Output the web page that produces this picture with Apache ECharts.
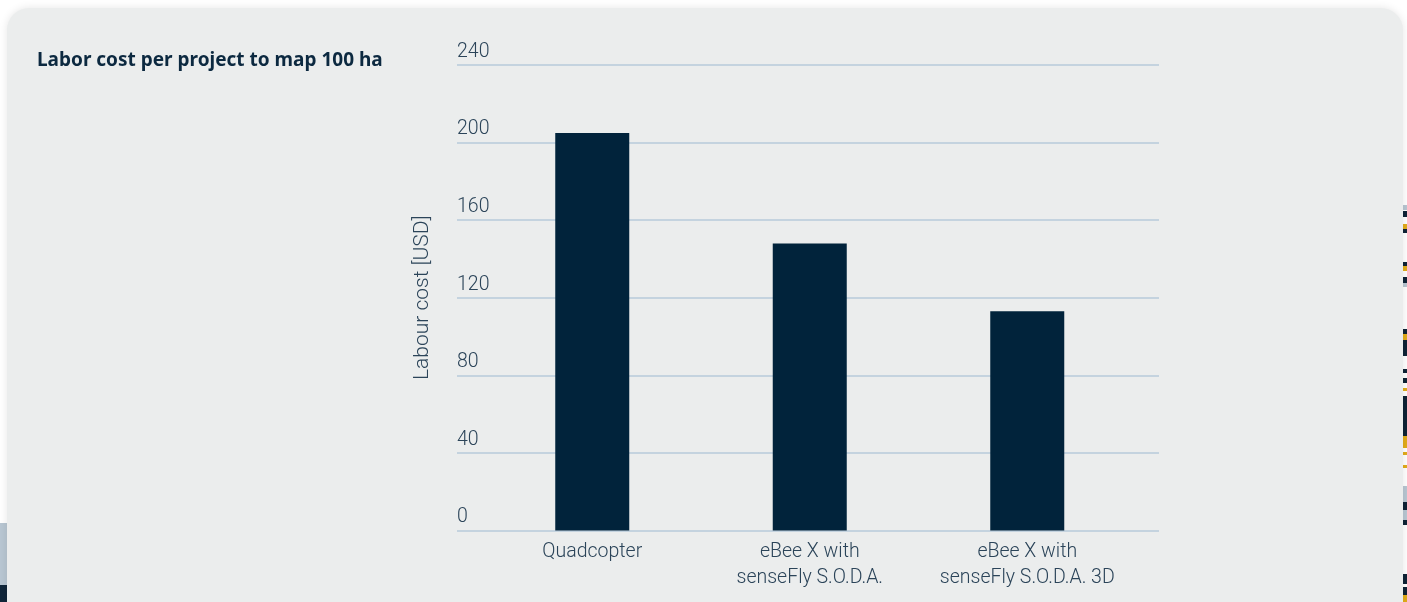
<!DOCTYPE html>
<html>
<head>
<meta charset="utf-8">
<script src="https://cdn.jsdelivr.net/npm/echarts@6/dist/echarts.min.js"></script>
<style>
  html, body { margin: 0; padding: 0; background: #ffffff; width: 1407px; height: 602px; overflow: hidden; position: relative; }
  .strip { position: absolute; }
  #card { position: absolute; left: 7px; top: 8px; width: 1396px; height: 620px; background: #ebeded; border-radius: 22px; box-shadow: 0 0 8px rgba(0,0,0,0.10); }
  #chart { position: absolute; left: 0; top: 0; width: 1407px; height: 602px; }
</style>
</head>
<body>
<div class="strip" style="left:0;top:523px;width:8px;height:62px;background:#b8c6d2"></div>
<div class="strip" style="left:0;top:585px;width:8px;height:17px;background:#10263a"></div>
<div class="strip" style="left:1400px;top:205px;width:7px;height:5px;background:#b8c6d2"></div>
<div class="strip" style="left:1400px;top:211px;width:7px;height:6px;background:#0e2336"></div>
<div class="strip" style="left:1400px;top:224px;width:7px;height:5px;background:#e2ac1a"></div>
<div class="strip" style="left:1400px;top:229px;width:7px;height:4px;background:#0e2336"></div>
<div class="strip" style="left:1400px;top:262px;width:7px;height:4px;background:#0e2336"></div>
<div class="strip" style="left:1400px;top:266px;width:7px;height:5px;background:#e2ac1a"></div>
<div class="strip" style="left:1400px;top:277px;width:7px;height:6px;background:#0e2336"></div>
<div class="strip" style="left:1400px;top:283px;width:7px;height:4px;background:#b8c6d2"></div>
<div class="strip" style="left:1400px;top:329px;width:7px;height:5px;background:#0e2336"></div>
<div class="strip" style="left:1400px;top:334px;width:7px;height:6px;background:#e2ac1a"></div>
<div class="strip" style="left:1400px;top:340px;width:7px;height:16px;background:#0e2336"></div>
<div class="strip" style="left:1400px;top:369px;width:7px;height:4px;background:#0e2336"></div>
<div class="strip" style="left:1400px;top:378px;width:7px;height:5px;background:#0e2336"></div>
<div class="strip" style="left:1400px;top:388px;width:7px;height:3px;background:#e2ac1a"></div>
<div class="strip" style="left:1400px;top:396px;width:7px;height:40px;background:#0e2336"></div>
<div class="strip" style="left:1400px;top:436px;width:7px;height:12px;background:#e2ac1a"></div>
<div class="strip" style="left:1400px;top:452px;width:7px;height:3px;background:#e2ac1a"></div>
<div class="strip" style="left:1400px;top:465px;width:7px;height:3px;background:#e2ac1a"></div>
<div class="strip" style="left:1400px;top:486px;width:7px;height:16px;background:#b8c6d2"></div>
<div class="strip" style="left:1400px;top:502px;width:7px;height:8px;background:#0e2336"></div>
<div class="strip" style="left:1400px;top:510px;width:7px;height:10px;background:#b8c6d2"></div>
<div class="strip" style="left:1400px;top:520px;width:7px;height:5px;background:#0e2336"></div>
<div class="strip" style="left:1400px;top:574px;width:7px;height:10px;background:#0e2336"></div>
<div class="strip" style="left:1400px;top:587px;width:7px;height:8px;background:#0e2336"></div>
<div class="strip" style="left:1400px;top:595px;width:7px;height:7px;background:#e2ac1a"></div>
<div id="card"></div>
<div id="chart"></div>
<script>
// ---- data ----
const chartTitle = 'Labor cost per project to map 100 ha';
const yAxisName = 'Labour cost [USD]';
const categories = ['Quadcopter', 'eBee X with\nsenseFly S.O.D.A.', 'eBee X with\nsenseFly S.O.D.A. 3D'];
const laborCost = [205, 148, 113];
const yMin = 0;
const yMax = 240;
const yInterval = 40;

// ---- chart ----
const chart = echarts.init(document.getElementById('chart'), null, { renderer: 'canvas' });
const labelColor = '#2b4459';
const option = {
  backgroundColor: 'transparent',
  animation: false,
  title: {
    text: chartTitle,
    left: 32, top: 46,
    textStyle: { fontFamily: 'Noto Sans', fontWeight: 700, fontSize: 19, color: '#0c2940' }
  },
  grid: [
    { left: 457, right: 248, top: 65, bottom: 71.5, containLabel: false },
    { left: 483.5, right: 271, top: 65, bottom: 71.5, containLabel: false }
  ],
  xAxis: [
    { gridIndex: 0, type: 'value', show: false, min: 0, max: 1 },
    {
      gridIndex: 1, type: 'category', data: categories, boundaryGap: true,
      axisLine: { show: false }, axisTick: { show: false },
      axisLabel: { interval: 0, hideOverlap: false, color: labelColor, fontFamily: 'Roboto', fontWeight: 300, fontSize: 19.5, lineHeight: 26, margin: 9 }
    }
  ],
  yAxis: [
    {
      gridIndex: 0, type: 'value', min: yMin, max: yMax, interval: yInterval,
      name: yAxisName, nameLocation: 'middle', nameGap: 24, nameRotate: 90,
      nameTextStyle: { color: labelColor, fontFamily: 'Roboto', fontWeight: 300, fontSize: 21 },
      axisLine: { show: false }, axisTick: { show: false },
      axisLabel: { inside: true, margin: 0, verticalAlign: 'bottom', padding: [0, 0, 3, 0], color: labelColor, fontFamily: 'Roboto', fontWeight: 300, fontSize: 19.5 },
      splitLine: { show: true, lineStyle: { color: '#c4d3df', width: 2 } }
    },
    { gridIndex: 1, type: 'value', min: yMin, max: yMax, interval: yInterval, show: false, splitLine: { show: false } }
  ],
  series: [
    {
      type: 'bar', xAxisIndex: 1, yAxisIndex: 1, data: laborCost, barWidth: 74,
      itemStyle: { color: '#01233b' }, z: 3
    }
  ]
};
chart.setOption(option);
</script>
</body>
</html>
